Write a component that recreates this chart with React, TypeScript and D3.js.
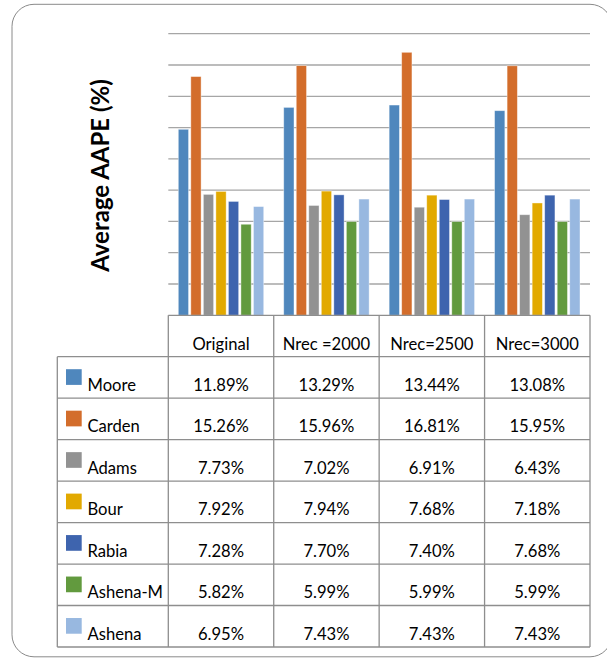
import React from "react";
import * as d3 from "d3";

// Categories (table columns) and series (table rows)
const categories = ["Original", "Nrec =2000", "Nrec=2500", "Nrec=3000"];
const seriesNames = ["Moore", "Carden", "Adams", "Bour", "Rabia", "Ashena-M", "Ashena"];
const seriesColors = ["#4f87bd", "#d36d2b", "#929292", "#e2a900", "#3e64ae", "#629a3e", "#98b8e0"];

// Average AAPE (%) per series, one value per category
const moore = [11.89, 13.29, 13.44, 13.08];
const carden = [15.26, 15.96, 16.81, 15.95];
const adams = [7.73, 7.02, 6.91, 6.43];
const bour = [7.92, 7.94, 7.68, 7.18];
const rabia = [7.28, 7.7, 7.4, 7.68];
const ashenaM = [5.82, 5.99, 5.99, 5.99];
const ashena = [6.95, 7.43, 7.43, 7.43];
const seriesValues = [moore, carden, adams, bour, rabia, ashenaM, ashena];

const yTicks = [0, 2, 4, 6, 8, 10, 12, 14, 16, 18];

const W = 607;
const H = 659;
const plotLeft = 168.3;
const plotRight = 590;
const plotTop = 33.7;
const plotBottom = 315.3;
const tableLeft = 57.3;
const headerBottom = 356.7;
const rowH = 41.47;
const font = "Lato, 'Open Sans', sans-serif";
const cellFontSize = 16.6;

export default function App() {
  const x = d3.scaleBand<string>().domain(categories).range([plotLeft, plotRight]).padding(0);
  const bw = x.bandwidth();
  const inner = d3
    .scaleBand<string>()
    .domain(seriesNames)
    .range([10, bw - 10])
    .paddingInner(0.18)
    .paddingOuter(0);
  const y = d3.scaleLinear().domain([0, 18]).range([plotBottom, plotTop]);

  const tableBottom = headerBottom + rowH * seriesNames.length;
  const lineColor = "#8e8e8e";

  return (
    <div style={{ position: "absolute", left: 0, top: 0 }}>
      <svg width={W} height={H} style={{ display: "block", background: "#fff" }}>
        {/* chart frame */}
        <rect x={12} y={4.3} width={600} height={652.5} rx={22} ry={22} fill="#fff" stroke="#8a8a8a" strokeWidth={1} />

        {/* horizontal gridlines */}
        {yTicks.slice(1).map((t) => (
          <line key={t} x1={plotLeft} x2={plotRight} y1={y(t)} y2={y(t)} stroke="#a6a6a6" strokeWidth={1.3} />
        ))}

        {/* bars */}
        {categories.map((c, ci) => (
          <g key={c} transform={`translate(${x(c)},0)`}>
            {seriesNames.map((s, si) => {
              const v = seriesValues[si][ci];
              return (
                <rect
                  key={s}
                  x={inner(s)}
                  y={y(v)}
                  width={inner.bandwidth()}
                  height={y(0) - y(v)}
                  fill={seriesColors[si]}
                  stroke="#ffffff"
                  strokeOpacity={0.5}
                  strokeWidth={0.8}
                />
              );
            })}
          </g>
        ))}

        {/* y axis title */}
        <text
          transform={`translate(108.5,175.5) rotate(-90)`}
          textAnchor="middle"
          fontFamily={font}
          fontWeight={700}
          fontSize={24}
          fill="#000"
        >
          Average AAPE (%)
        </text>

        {/* data table grid */}
        <g stroke={lineColor} strokeWidth={1.3} fill="none">
          <line x1={plotLeft} x2={plotRight} y1={plotBottom} y2={plotBottom} />
          {d3.range(seriesNames.length + 1).map((i) => (
            <line key={"h" + i} x1={tableLeft} x2={plotRight} y1={headerBottom + i * rowH} y2={headerBottom + i * rowH} />
          ))}
          <line x1={tableLeft} x2={tableLeft} y1={headerBottom} y2={tableBottom} />
          {categories.map((c) => (
            <line key={"v" + c} x1={x(c)} x2={x(c)} y1={plotBottom} y2={tableBottom} />
          ))}
          <line x1={plotRight} x2={plotRight} y1={plotBottom} y2={tableBottom} />
        </g>

        {/* column headers */}
        {categories.map((c) => (
          <text key={"c" + c} x={(x(c) as number) + bw / 2} y={350} textAnchor="middle" fontFamily={font} fontSize={cellFontSize} fill="#000">
            {c}
          </text>
        ))}

        {/* rows: legend key, name and values */}
        {seriesNames.map((s, si) => {
          const top = headerBottom + si * rowH;
          return (
            <g key={"r" + s}>
              <rect x={66} y={top + 12.5} width={15.7} height={15.7} fill={seriesColors[si]} />
              <text x={87.5} y={top + 34.2} fontFamily={font} fontSize={cellFontSize} fill="#000">
                {s}
              </text>
              {categories.map((c, ci) => (
                <text
                  key={c}
                  x={(x(c) as number) + bw / 2}
                  y={top + 34.2}
                  textAnchor="middle"
                  fontFamily={font}
                  fontSize={cellFontSize}
                  fill="#000"
                >
                  {seriesValues[si][ci].toFixed(2) + "%"}
                </text>
              ))}
            </g>
          );
        })}
      </svg>
    </div>
  );
}
